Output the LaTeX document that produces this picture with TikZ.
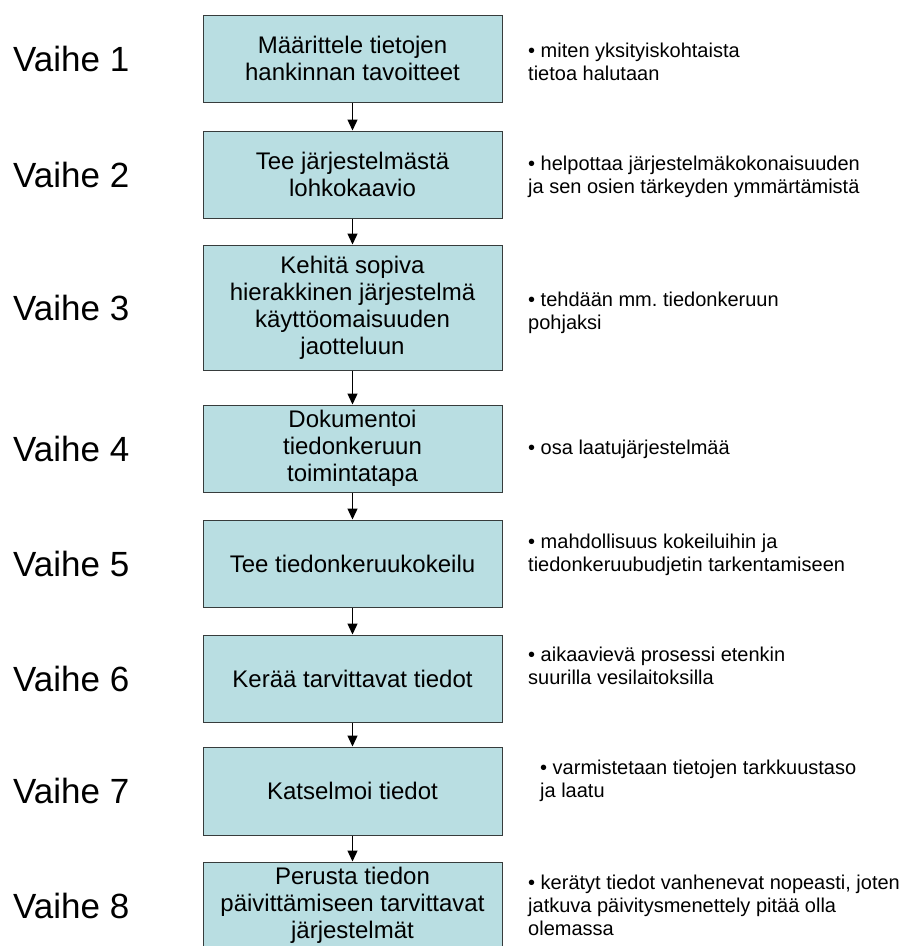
\documentclass[tikz,border=0pt]{standalone}
\usepackage{fontspec}
\setmainfont{Liberation Sans}
\usetikzlibrary{arrows.meta}
\frenchspacing

\definecolor{boxblue}{RGB}{185,222,226}
\definecolor{boxline}{RGB}{55,60,60}

\tikzset{
  stepbox/.style={draw=boxline, line width=1pt, fill=boxblue, minimum width=299pt, minimum height=87pt, inner sep=0pt, align=center, font=\fontsize{24}{27}\selectfont},
  phase/.style={anchor=west, inner sep=0pt, font=\fontsize{35}{40}\selectfont},
  note/.style={anchor=west, inner sep=0pt, align=left, font=\fontsize{20}{23}\selectfont},
  flow/.style={-{Triangle[length=11pt,width=10pt]}, line width=1.3pt}
}

\begin{document}
\begin{tikzpicture}[x=1pt,y=-1pt]

                    \useasboundingbox (0,0) rectangle (904,946);
                    \clip (0,0) rectangle (904,946);

                    \node[stepbox] (s1) at (352.5,58.5) {Määrittele tietojen\\hankinnan tavoitteet};
                    \node[stepbox] (s2) at (352.5,174.5) {Tee järjestelmästä\\lohkokaavio};
                    \node[stepbox, minimum height=125pt] (s3) at (352.5,307.5) {Kehitä sopiva\\hierakkinen järjestelmä\\käyttöomaisuuden\\jaotteluun};
                    \node[stepbox] (s4) at (352.5,448.5) {Dokumentoi\\tiedonkeruun\\toimintatapa};
                    \node[stepbox] (s5) at (352.5,563.5) {Tee tiedonkeruukokeilu};
                    \node[stepbox] (s6) at (352.5,678.5) {Kerää tarvittavat tiedot};
                    \node[stepbox, minimum height=88pt] (s7) at (352.5,791) {Katselmoi tiedot};
                    \node[stepbox] (s8) at (352.5,905.5) {Perusta tiedon\\päivittämiseen tarvittavat\\järjestelmät};

                    \draw[flow] (s1.south) -- (s2.north);
                    \draw[flow] (s2.south) -- (s3.north);
                    \draw[flow] (s3.south) -- (s4.north);
                    \draw[flow] (s4.south) -- (s5.north);
                    \draw[flow] (s5.south) -- (s6.north);
                    \draw[flow] (s6.south) -- (s7.north);
                    \draw[flow] (s7.south) -- (s8.north);

                    \foreach \n/\y in {1/58.5, 2/174.5, 3/307.5, 4/448.5, 5/563.5, 6/678.5, 7/791, 8/905.5}
                      \node[phase] (v\n) at (13,\y) {Vaihe \n};

                    \node[note] (n1) at (528,62) {• miten yksityiskohtaista\\tietoa halutaan};
                    \node[note] (n2) at (528,177) {• helpottaa järjestelmäkokonaisuuden\\ja sen osien tärkeyden ymmärtämistä};
                    \node[note] (n3) at (528,313) {• tehdään mm. tiedonkeruun\\pohjaksi};
                    \node[note] (n4) at (528,449) {• osa laatujärjestelmää};
                    \node[note] (n5) at (528,555) {• mahdollisuus kokeiluihin ja\\tiedonkeruubudjetin tarkentamiseen};
                    \node[note] (n6) at (528,666) {• aikaavievä prosessi etenkin\\suurilla vesilaitoksilla};
                    \node[note] (n7) at (540,781) {• varmistetaan tietojen tarkkuustaso\\ja laatu};
                    \node[note] (n8) at (528,905) {• kerätyt tiedot vanhenevat nopeasti, joten\\jatkuva päivitysmenettely pitää olla\\olemassa};

                  \end{tikzpicture}
\end{document}
